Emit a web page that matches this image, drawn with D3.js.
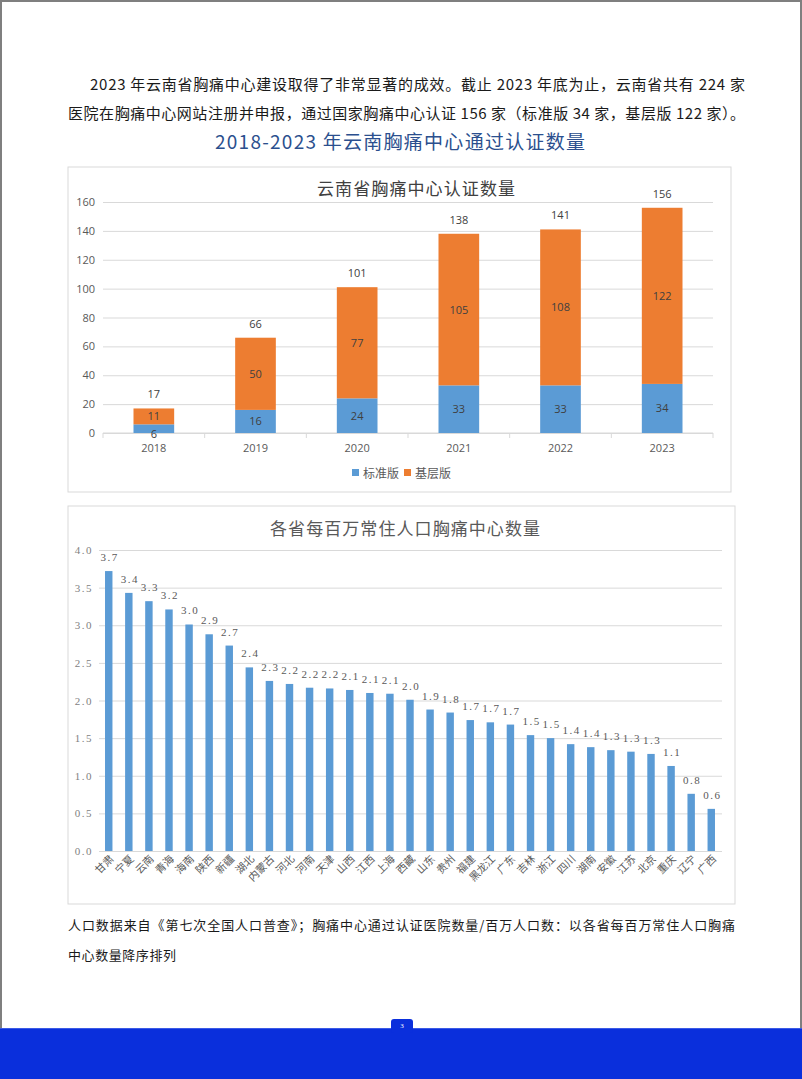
<!DOCTYPE html>
<html>
<head>
<meta charset="utf-8">
<script src="https://cdn.jsdelivr.net/npm/d3@7"></script>
<style>
  body { margin: 0; background: #fff; }
  svg { display: block; }
</style>
</head>
<body>
<div id="page"></div>
<script>
// chart 1 data
var years = ["2018", "2019", "2020", "2021", "2022", "2023"];
var standardCounts = [6, 16, 24, 33, 33, 34];
var basicCounts = [11, 50, 77, 105, 108, 122];
var countTicks = [0, 20, 40, 60, 80, 100, 120, 140, 160];
var seriesNames = ["标准版", "基层版"];

// chart 2 data
var provinces = ["甘肃","宁夏","云南","青海","海南","陕西","新疆","湖北","内蒙古","河北","河南","天津","山西","江西","上海","西藏","山东","贵州","福建","黑龙江","广东","吉林","浙江","四川","湖南","安徽","江苏","北京","重庆","辽宁","广西"];
var perMillion = [3.72,3.43,3.32,3.21,3.01,2.88,2.73,2.44,2.26,2.22,2.17,2.16,2.14,2.10,2.09,2.01,1.88,1.84,1.74,1.71,1.68,1.54,1.50,1.42,1.38,1.34,1.32,1.29,1.13,0.76,0.56];
var rateTicks = [0, 0.5, 1.0, 1.5, 2.0, 2.5, 3.0, 3.5, 4.0];

var W = 802, H = 1079;
var cjk = "'Noto Sans CJK SC', 'Noto Sans', sans-serif";
var serif = "'Liberation Serif', 'DejaVu Serif', 'Noto Sans CJK SC', serif";

var svg = d3.select("#page").append("svg").attr("width", W).attr("height", H);

svg.append("rect").attr("width", W).attr("height", H).attr("fill", "#fff");

// page border
svg.append("path")
  .attr("d", "M1,1079 L1,1 L801,1 L801,1079")
  .attr("fill", "none").attr("stroke", "#7f7f7f").attr("stroke-width", 2);

// intro paragraph
svg.append("text").attr("x", 90).attr("y", 90)
  .attr("textLength", 655).attr("lengthAdjust", "spacing")
  .style("font-family", cjk).style("font-size", "15px").attr("fill", "#1a1a1a")
  .text("2023 年云南省胸痛中心建设取得了非常显著的成效。截止 2023 年底为止，云南省共有 224 家");
svg.append("text").attr("x", 68).attr("y", 119)
  .attr("textLength", 677).attr("lengthAdjust", "spacing")
  .style("font-family", cjk).style("font-size", "15px").attr("fill", "#1a1a1a")
  .text("医院在胸痛中心网站注册并申报，通过国家胸痛中心认证 156 家（标准版 34 家，基层版 122 家）。");

svg.append("text").attr("x", 215).attr("y", 149)
  .attr("textLength", 370).attr("lengthAdjust", "spacing")
  .style("font-family", cjk).style("font-size", "19px").attr("fill", "#2b4f8e")
  .text("2018-2023 年云南胸痛中心通过认证数量");

// ---------- chart 1 ----------
svg.append("rect").attr("x", 68).attr("y", 167).attr("width", 663).attr("height", 325)
  .attr("fill", "#fff").attr("stroke", "#d9d9d9");

svg.append("text").attr("x", 317).attr("y", 195)
  .attr("textLength", 198).attr("lengthAdjust", "spacing")
  .style("font-family", cjk).style("font-size", "17px").attr("fill", "#404040")
  .text("云南省胸痛中心认证数量");

var x1 = d3.scaleBand().domain(years).range([103, 713]).paddingInner(0.6).paddingOuter(0.3);
var y1 = d3.scaleLinear().domain([0, 160]).range([433, 202]);

var g1 = svg.append("g");
g1.append("g").attr("transform", "translate(103,0)")
  .call(d3.axisLeft(y1).tickValues(countTicks).tickSize(-610).tickPadding(8))
  .call(g => g.select(".domain").remove())
  .call(g => g.selectAll(".tick line").attr("stroke", "#d9d9d9"))
  .call(g => g.selectAll(".tick text").attr("fill", "#595959")
    .style("font-family", "'Open Sans', sans-serif").style("font-size", "11px"));

// x axis with ticks at category boundaries
var bandStep = 610 / years.length;
g1.append("line").attr("x1", 103).attr("x2", 713).attr("y1", 433).attr("y2", 433).attr("stroke", "#d9d9d9");
d3.range(years.length + 1).forEach(function(i){
  g1.append("line").attr("x1", 103 + i * bandStep).attr("x2", 103 + i * bandStep)
    .attr("y1", 433).attr("y2", 438).attr("stroke", "#d9d9d9");
});
g1.selectAll(".yr").data(years).enter().append("text")
  .attr("x", d => x1(d) + x1.bandwidth() / 2).attr("y", 452)
  .attr("text-anchor", "middle").attr("fill", "#595959")
  .style("font-family", "'Open Sans', sans-serif").style("font-size", "11px")
  .text(d => d);

var stackRows = years.map((yr, i) => ({year: yr, s: standardCounts[i], b: basicCounts[i]}));
var stacked = d3.stack().keys(["s", "b"])(stackRows);
var colors = {s: "#5b9bd5", b: "#ed7d31"};

stacked.forEach(function(layer){
  g1.selectAll(".bar-" + layer.key).data(layer).enter().append("rect")
    .attr("x", d => x1(d.data.year)).attr("width", x1.bandwidth())
    .attr("y", d => y1(d[1])).attr("height", d => y1(d[0]) - y1(d[1]))
    .attr("fill", colors[layer.key]);
  g1.selectAll(".lab-" + layer.key).data(layer).enter().append("text")
    .attr("x", d => x1(d.data.year) + x1.bandwidth() / 2)
    .attr("y", function(d){
      var h = y1(d[0]) - y1(d[1]);
      // segment too short for its label: drop it just under the segment
      if (h < 12) return y1(d[0]) + 5;
      return (y1(d[0]) + y1(d[1])) / 2 + 4;
    })
    .attr("text-anchor", "middle").attr("fill", "#404040")
    .style("font-family", "'Open Sans', sans-serif").style("font-size", "11px")
    .text(d => d[1] - d[0]);
});
g1.selectAll(".tot").data(stackRows).enter().append("text")
  .attr("x", d => x1(d.year) + x1.bandwidth() / 2)
  .attr("y", d => y1(d.s + d.b) - 10)
  .attr("text-anchor", "middle").attr("fill", "#404040")
  .style("font-family", "'Open Sans', sans-serif").style("font-size", "11px")
  .text(d => d.s + d.b);

// legend
var leg = g1.append("g").attr("transform", "translate(352,473)");
seriesNames.forEach(function(name, i){
  var lg = leg.append("g").attr("transform", "translate(" + (i * 52) + ",0)");
  lg.append("rect").attr("x", 0).attr("y", -4).attr("width", 7).attr("height", 7)
    .attr("fill", i === 0 ? colors.s : colors.b);
  lg.append("text").attr("x", 11).attr("y", 4.5).attr("fill", "#595959")
    .style("font-family", cjk).style("font-size", "12px").text(name);
});

// ---------- chart 2 ----------
svg.append("rect").attr("x", 68).attr("y", 506).attr("width", 667).attr("height", 398)
  .attr("fill", "#fff").attr("stroke", "#d9d9d9");

svg.append("text").attr("x", 270).attr("y", 535)
  .attr("textLength", 270).attr("lengthAdjust", "spacing")
  .style("font-family", cjk).style("font-size", "17px").attr("fill", "#595959")
  .text("各省每百万常住人口胸痛中心数量");

var x2 = d3.scaleBand().domain(provinces).range([99, 721]).paddingInner(0.63).paddingOuter(0.3);
var y2 = d3.scaleLinear().domain([0, 4]).range([851, 550]);

var g2 = svg.append("g");
g2.append("g").attr("transform", "translate(99,0)")
  .call(d3.axisLeft(y2).tickValues(rateTicks).tickSize(-623).tickPadding(6).tickFormat(d3.format(".1f")))
  .call(g => g.select(".domain").remove())
  .call(g => g.selectAll(".tick line").attr("stroke", "#d9d9d9"))
  .call(g => g.selectAll(".tick text").attr("fill", "#7f7f7f")
    .style("font-family", serif).style("font-size", "11px").style("letter-spacing", "1.5px"));

g2.selectAll(".bar").data(provinces).enter().append("rect")
  .attr("x", d => x2(d)).attr("width", x2.bandwidth())
  .attr("y", (d, i) => y2(perMillion[i])).attr("height", (d, i) => y2(0) - y2(perMillion[i]))
  .attr("fill", "#5b9bd5");

g2.selectAll(".val").data(provinces).enter().append("text")
  .attr("x", d => x2(d) + x2.bandwidth() / 2 + 1)
  .attr("y", (d, i) => y2(perMillion[i]) - 10)
  .attr("text-anchor", "middle").attr("fill", "#595959")
  .style("font-family", serif).style("font-size", "11px").style("letter-spacing", "1.5px")
  .text((d, i) => perMillion[i].toFixed(1));

g2.selectAll(".prov").data(provinces).enter().append("text")
  .attr("transform", d => "translate(" + (x2(d) + x2.bandwidth() / 2 + 3) + ",857) rotate(-45)")
  .attr("text-anchor", "end").attr("dy", "0.35em").attr("fill", "#595959")
  .style("font-family", cjk).style("font-size", "10.5px")
  .text(d => d);

// footnote
svg.append("text").attr("x", 68).attr("y", 930)
  .attr("textLength", 667).attr("lengthAdjust", "spacing")
  .style("font-family", cjk).style("font-size", "13px").attr("fill", "#1a1a1a")
  .text("人口数据来自《第七次全国人口普查》；胸痛中心通过认证医院数量/百万人口数：以各省每百万常住人口胸痛");
svg.append("text").attr("x", 68).attr("y", 960)
  .attr("textLength", 108).attr("lengthAdjust", "spacing")
  .style("font-family", cjk).style("font-size", "13px").attr("fill", "#1a1a1a")
  .text("中心数量降序排列");

// footer band
svg.append("rect").attr("x", 0).attr("y", 1028).attr("width", W).attr("height", 51).attr("fill", "#0a2fdc");
svg.append("line").attr("x1", 0).attr("x2", W).attr("y1", 1028.5).attr("y2", 1028.5).attr("stroke", "#3a5ae6");
svg.append("rect").attr("x", 391).attr("y", 1019).attr("width", 22).attr("height", 14).attr("rx", 3)
  .attr("fill", "#0a2fdc");
svg.append("text").attr("x", 402).attr("y", 1028).attr("text-anchor", "middle")
  .attr("fill", "#fff").style("font-family", serif).style("font-size", "7px").text("3");
</script>
</body>
</html>
